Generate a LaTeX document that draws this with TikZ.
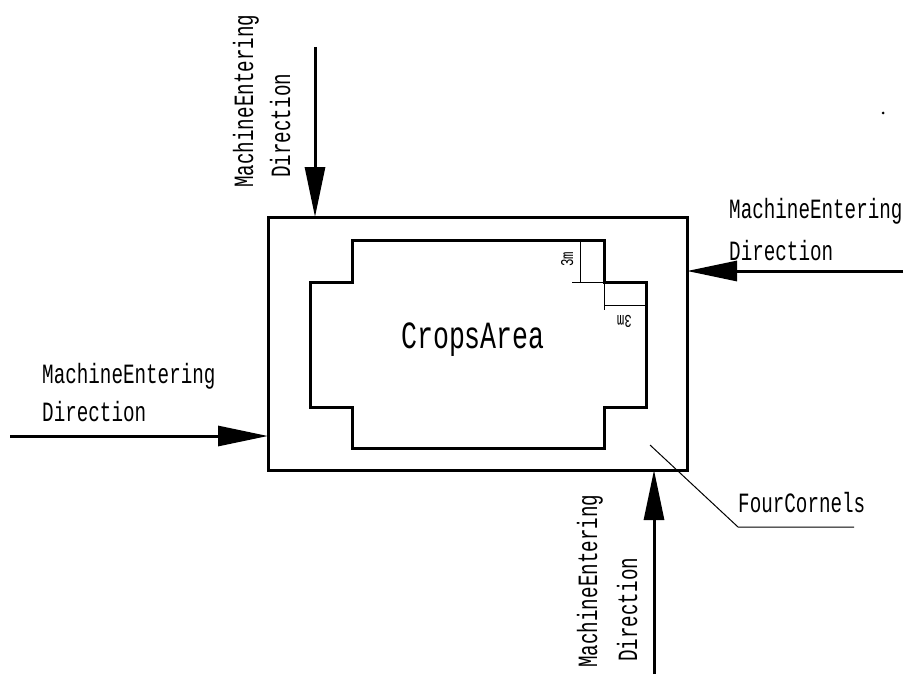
\documentclass[tikz,border=0pt]{standalone}
\usepackage{fontspec}
\newfontfamily\cad[FakeStretch=0.69]{Liberation Mono}
\usetikzlibrary{arrows.meta}
\begin{document}
\begin{tikzpicture}[x=1pt,y=-1pt,
  thickline/.style={line width=3pt},
  thinline/.style={line width=1pt},
  entry/.style={thickline,-{Triangle[length=50pt,width=20pt]}},
  lab/.style={font=\cad\fontsize{27.9}{30}\selectfont,inner sep=0pt,anchor=base west},
  small/.style={font=\cad\fontsize{18}{20}\selectfont,inner sep=0pt,anchor=base west}]
\useasboundingbox[fill=white] (0,0) rectangle (904,674);
% outer field
\draw[thickline] (268,217) rectangle (687,470);
% crops area
\draw[thickline] (352,240) -- (604,240) -- (604,282) -- (646,282) -- (646,407)
  -- (604,407) -- (604,448) -- (352,448) -- (352,407) -- (310,407) -- (310,282)
  -- (352,282) -- cycle;
\node[lab,font=\cad\fontsize{38.5}{40}\selectfont] (crops) at (401,348) {CropsArea};
% dimension marks
\coordinate (d1a) at (580,240); \coordinate (d1b) at (580,282);
\coordinate (d2a) at (572,282); \coordinate (d2b) at (604,282);
\coordinate (d3a) at (604,282); \coordinate (d3b) at (604,310);
\coordinate (d4a) at (604,305); \coordinate (d4b) at (646,305);
\draw[thinline] (d1a) -- (d1b);
\draw[thinline] (d2a) -- (d2b);
\draw[thinline] (d3a) -- (d3b);
\draw[thinline] (d4a) -- (d4b);
\node[small,rotate=90] (m1) at (573,267) {3m};
\node[small,rotate=180] (m2) at (632,315) {3m};
% entering arrows
\coordinate (ts) at (315,47);  \coordinate (te) at (315,217);
\coordinate (rs) at (903,271); \coordinate (re) at (687,271);
\coordinate (ls) at (10,436);  \coordinate (le) at (268,436);
\coordinate (bs) at (654,674); \coordinate (be) at (654,470);
\draw[entry] (ts) -- (te);
\draw[entry] (rs) -- (re);
\draw[entry] (ls) -- (le);
\draw[entry] (bs) -- (be);
% labels
\node[lab,rotate=90] (t1) at (253,188) {MachineEntering};
\node[lab,rotate=90] (t2) at (290,178) {Direction};
\node[lab] (r1) at (729,218) {MachineEntering};
\node[lab] (r2) at (729,260) {Direction};
\node[lab] (l1) at (42,383) {MachineEntering};
\node[lab] (l2) at (42,421) {Direction};
\node[lab,rotate=90] (b1) at (597,668) {MachineEntering};
\node[lab,rotate=90] (b2) at (637,662) {Direction};
% four corners leader
\node[lab] (fc) at (738,512) {FourCornels};
\coordinate (fa) at (650,445);
\coordinate (fb) at (738,527);
\coordinate (fcend) at (854,527);
\draw[thinline] (fa) -- (fb) -- (fcend);
% speck
\fill (883,113) circle (1.5);
\end{tikzpicture}
\end{document}
